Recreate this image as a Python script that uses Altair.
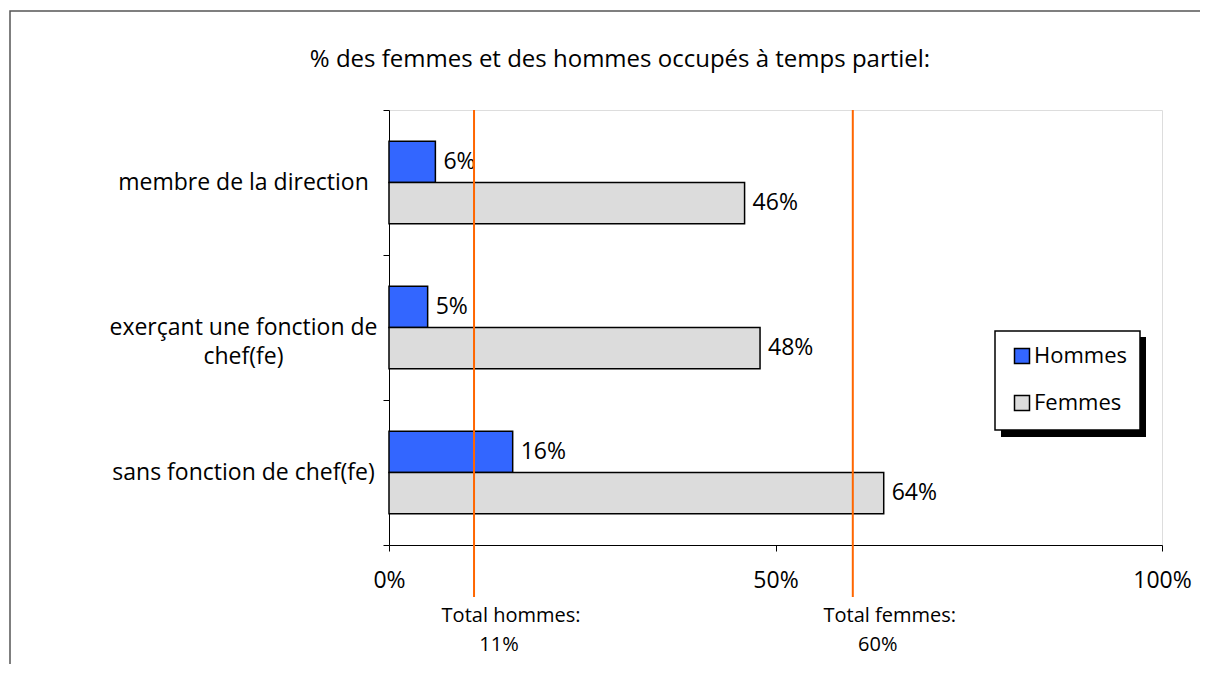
import altair as alt
import pandas as pd

# ---- data ----
categories = ["membre de la direction", "exerçant une fonction de chef(fe)", "sans fonction de chef(fe)"]
category_lines = [["membre de la direction"], ["exerçant une fonction de", "chef(fe)"], ["sans fonction de chef(fe)"]]
series = ["Hommes", "Femmes"]
hommes = [6, 5, 16]
femmes = [46, 48, 64]
total_labels = ["Total hommes:", "Total femmes:"]
total_values = [11, 60]
x_ticks = [0, 50, 100]
title_text = "% des femmes et des hommes occupés à temps partiel:"

FONT = "Open Sans"
FS = 23
FS_TOT = 20

rows = []
for c, h, f in zip(categories, hommes, femmes):
    rows.append({"category": c, "series": "Hommes", "value": h, "label": f"{h}%"})
    rows.append({"category": c, "series": "Femmes", "value": f, "label": f"{f}%"})
df = pd.DataFrame(rows)

tot = pd.DataFrame({"label": total_labels, "value": total_values,
                    "pct": [f"{v}%" for v in total_values]})
one = pd.DataFrame({"a": [0]})
ttl = pd.DataFrame({"t": [title_text]})

# y-axis label expression with line breaks
parts = []
for c, lines in zip(categories, category_lines):
    if len(lines) > 1:
        arr = "[" + ",".join("'" + l + "'" for l in lines) + "]"
        parts.append(f"datum.label == '{c}' ? {arr} : ")
label_expr = "".join(parts) + "datum.label"

x_enc = alt.X("value:Q", scale=alt.Scale(domain=[0, 100], nice=False),
              axis=alt.Axis(values=x_ticks, labelExpr="datum.value + '%'", title=None,
                            grid=False, tickSize=6, labelPadding=36, labelFlush=False,
                            labelBaseline="alphabetic", labelFontSize=FS,
                            labelFont=FONT, labelColor="black",
                            domainColor="black", tickColor="black"))
y_enc = alt.Y("category:N", sort=categories,
              scale=alt.Scale(paddingInner=0, paddingOuter=0),
              axis=alt.Axis(title=None, labelExpr=label_expr, labelAlign="center",
                            labelBaseline="middle", labelPadding=140, labelLineHeight=29,
                            labelFontSize=FS, labelFont=FONT, labelColor="black",
                            tickSize=6, tickBand="extent", domainColor="black",
                            tickColor="black", labelLimit=400))
yoff = alt.YOffset("series:N", sort=series,
                   scale=alt.Scale(paddingInner=0, paddingOuter=0.755))

frame = alt.Chart(one).mark_rect(fill="transparent", stroke="#555555", strokeWidth=1.5).encode(
    x=alt.value(-379), x2=alt.value(1000), y=alt.value(-99), y2=alt.value(700))

title = alt.Chart(ttl).mark_text(align="center", baseline="alphabetic", fontSize=24,
                                 font=FONT, color="black").encode(
    x=alt.value(231), y=alt.value(-43), text="t:N")

bars = alt.Chart(df).mark_bar(stroke="black", strokeWidth=1.5).encode(
    x=x_enc, y=y_enc, yOffset=yoff,
    color=alt.Color("series:N", sort=series,
                    scale=alt.Scale(domain=series, range=["#3366FF", "#DCDCDC"]),
                    legend=alt.Legend(title=None, orient="none", legendX=622, legendY=235,
                                      symbolType="square", symbolSize=225,
                                      symbolStrokeColor="black", symbolStrokeWidth=1.5,
                                      labelFontSize=22, labelFont=FONT, labelColor="black",
                                      rowPadding=25, labelOffset=1)))

vals = alt.Chart(df).mark_text(align="left", baseline="middle", dx=8, fontSize=FS,
                               font=FONT, color="black").encode(
    x="value:Q", y=alt.Y("category:N", sort=categories), yOffset=yoff, text="label:N")

rules = alt.Chart(tot).mark_rule(color="#FF6600", strokeWidth=2).encode(
    x="value:Q", y=alt.value(0), y2=alt.value(487))

tot1 = alt.Chart(tot).mark_text(align="center", baseline="alphabetic", dx=37, fontSize=FS_TOT,
                                font=FONT, color="black").encode(
    x="value:Q", y=alt.value(512), text="label:N")
tot2 = alt.Chart(tot).mark_text(align="center", baseline="alphabetic", dx=25, fontSize=FS_TOT,
                                font=FONT, color="black").encode(
    x="value:Q", y=alt.value(541), text="pct:N")

shadow = alt.Chart(one).mark_rect(fill="black").encode(
    x=alt.value(612), x2=alt.value(757), y=alt.value(227), y2=alt.value(327))
box = alt.Chart(one).mark_rect(fill="white", stroke="black", strokeWidth=1.5).encode(
    x=alt.value(606), x2=alt.value(751), y=alt.value(221), y2=alt.value(320))

chart = alt.layer(frame, title, bars, vals, rules, tot1, tot2, shadow, box).properties(
    width=773, height=435,
    autosize=alt.AutoSizeParams(type="none"),
    padding={"left": 381, "top": 102, "right": 38, "bottom": 119},
).configure_view(stroke="#808080", strokeWidth=1.5).configure(background="white")

chart.save("out.html", embed_options={"renderer": "svg", "actions": False})
